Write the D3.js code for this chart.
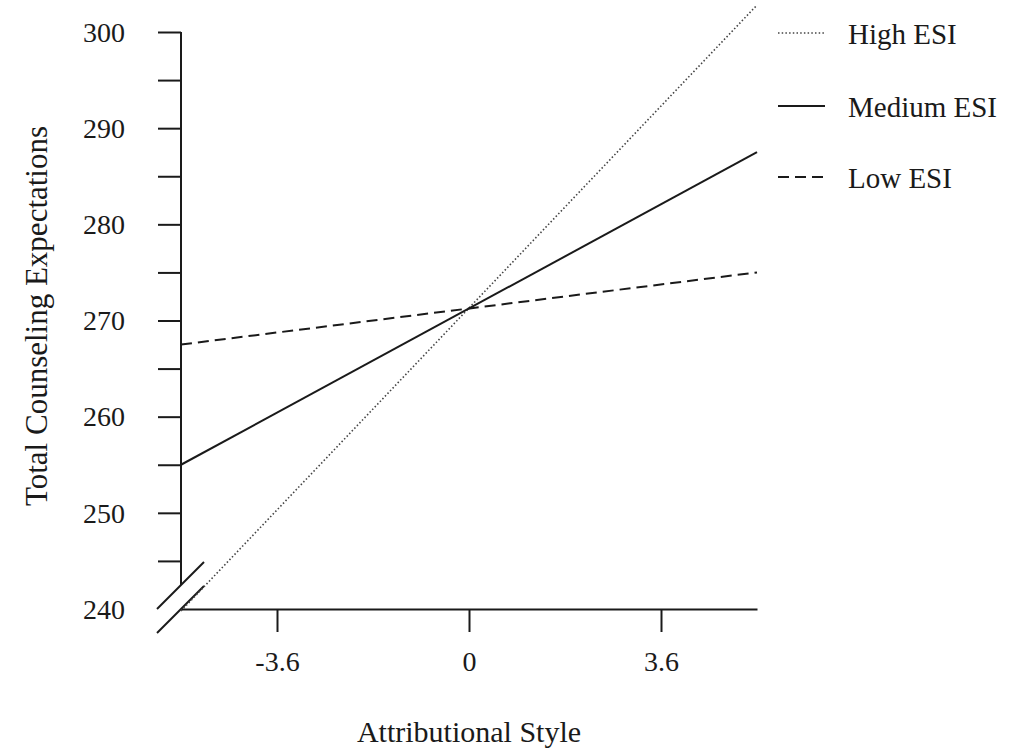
<!DOCTYPE html>
<html>
<head>
<meta charset="utf-8">
<script src="https://d3js.org/d3.v7.min.js"></script>
<style>
    body { margin: 0; background: #fff; }
    text { font-family: "Liberation Serif", "DejaVu Serif", serif; fill: #1a1a1a; }
</style>
</head>
<body>
<div id="chart"></div>
<script>
    // data
    var xEnds = [-5.4, 5.4];
    var seriesNames = ["High ESI", "Medium ESI", "Low ESI"];
    var highValues = [239.8, 302.8];
    var mediumValues = [255.0, 287.5];
    var lowValues = [267.5, 275.0];
    var xTicks = [-3.6, 0, 3.6];
    var yTicks = [240, 245, 250, 255, 260, 265, 270, 275, 280, 285, 290, 295, 300];

    var width = 1010, height = 749;

    var svg = d3.select("#chart")
        .append("svg")
        .attr("width", width)
        .attr("height", height);

    var x = d3.scaleLinear().domain([-5.4, 5.4]).range([181, 757]);
    var y = d3.scaleLinear().domain([240, 300]).range([609, 32]);

    // y axis
    var yAxis = svg.append("g")
        .attr("transform", "translate(" + x(-5.4) + ",0)")
        .call(d3.axisLeft(y)
            .tickValues(yTicks)
            .tickSize(23)
            .tickPadding(33)
            .tickFormat(function (d) { return d % 10 === 0 ? d : ""; }));
    yAxis.select(".domain").remove();
    yAxis.selectAll(".tick").filter(function (d) { return d === 240; }).select("line").remove();
    yAxis.selectAll(".tick line").attr("stroke", "#1a1a1a").attr("stroke-width", 2);
    yAxis.selectAll(".tick text")
        .style("font-size", "28px")
        .attr("dy", "0.33em");
    yAxis.append("line")
        .attr("x1", 0).attr("x2", 0)
        .attr("y1", y(300)).attr("y2", y(242.5))
        .attr("stroke", "#1a1a1a").attr("stroke-width", 2);

    // x axis
    var xAxis = svg.append("g")
        .attr("transform", "translate(0," + y(240) + ")")
        .call(d3.axisBottom(x)
            .tickValues(xTicks)
            .tickSize(23)
            .tickSizeOuter(0)
            .tickPadding(19)
            .tickFormat(function (d) { return d; }));
    xAxis.select(".domain").attr("stroke", "#1a1a1a").attr("stroke-width", 2);
    xAxis.selectAll(".tick line").attr("stroke", "#1a1a1a").attr("stroke-width", 2);
    xAxis.selectAll(".tick text").style("font-size", "28px");

    // axis break marks
    var bx = x(-5.4);
    [y(242.5), y(240)].forEach(function (by) {
        svg.append("line")
            .attr("x1", bx - 24).attr("y1", by + 24)
            .attr("x2", bx + 23).attr("y2", by - 23)
            .attr("stroke", "#1a1a1a").attr("stroke-width", 2);
    });

    // lines
    var series = [
        { name: seriesNames[0], values: highValues, dash: "1.5,2.2", width: 1.6, color: "#444" },
        { name: seriesNames[1], values: mediumValues, dash: null, width: 2, color: "#1a1a1a" },
        { name: seriesNames[2], values: lowValues, dash: "11,6", width: 2, color: "#1a1a1a" }
    ];

    var line = d3.line()
        .x(function (d, i) { return x(xEnds[i]); })
        .y(function (d) { return y(d); });

    series.forEach(function (s) {
        svg.append("path")
            .datum(s.values)
            .attr("d", line)
            .attr("fill", "none")
            .attr("stroke", s.color)
            .attr("stroke-width", s.width)
            .attr("stroke-dasharray", s.dash);
    });

    // legend
    var legendY = [33, 106, 177];
    series.forEach(function (s, i) {
        var g = svg.append("g").attr("transform", "translate(778," + legendY[i] + ")");
        g.append("line")
            .attr("x1", 0).attr("x2", 47)
            .attr("stroke", s.color)
            .attr("stroke-width", s.width)
            .attr("stroke-dasharray", s.dash);
        g.append("text")
            .attr("x", 70)
            .attr("y", 11)
            .style("font-size", "29px")
            .text(s.name);
    });

    // axis titles
    svg.append("text")
        .attr("x", 469)
        .attr("y", 742)
        .attr("text-anchor", "middle")
        .style("font-size", "30px")
        .text("Attributional Style");

    svg.append("text")
        .attr("transform", "translate(47," + 316 + ")rotate(-90)")
        .attr("text-anchor", "middle")
        .style("font-size", "31px")
        .text("Total Counseling Expectations");
</script>
</body>
</html>
